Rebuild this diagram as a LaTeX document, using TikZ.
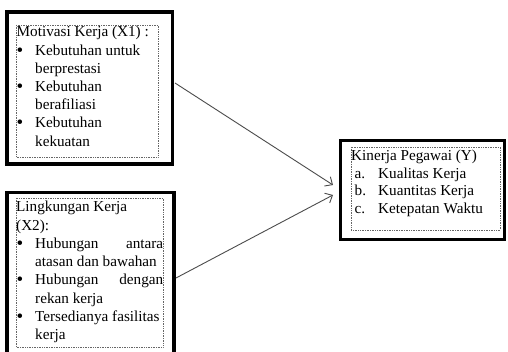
\documentclass[tikz,border=0pt]{standalone}
\usepackage{fontspec}
\setmainfont{Liberation Serif}
\usetikzlibrary{arrows.meta}
\begin{document}
\begin{tikzpicture}[x=1pt,y=-1pt,
  outerbox/.style={draw=black,line width=3.5pt},
  innerbox/.style={draw=black!60,densely dotted,line width=0.7pt},
  txt/.style={anchor=base west,inner sep=0pt,font=\fontsize{15.2}{18}\selectfont,text=black},
  bul/.style={anchor=base west,inner sep=0pt,font=\fontsize{19}{18}\selectfont,text=black},
  conn/.style={draw=black!70,line width=0.9pt,-{Straight Barb[length=6pt,width=11pt,line width=0.9pt]}}]
\clip (0,0) rectangle (508,352);
\fill[white] (0,0) rectangle (508,352);

% Box 1
\draw[outerbox] (7,12) rectangle (172.5,164);
\draw[innerbox] (16,25) rectangle (158,157);
\node[txt] (m0) at (16.5,37) {Motivasi Kerja (X1) :};
\node[bul] (mb1) at (16.5,56.2) {\textbullet};
\node[txt] (m1) at (35,55.2) {Kebutuhan untuk};
\node[txt] (m2) at (35,73.4) {berprestasi};
\node[bul] (mb2) at (16.5,92.6) {\textbullet};
\node[txt] (m3) at (35,91.6) {Kebutuhan};
\node[txt] (m4) at (35,109.8) {berafiliasi};
\node[bul] (mb3) at (16.5,129) {\textbullet};
\node[txt] (m5) at (35,128) {Kebutuhan};
\node[txt] (m6) at (35,146.2) {kekuatan};

% Box 2
\draw[outerbox] (7,192.5) rectangle (174,362);
\draw[innerbox] (16,198) rectangle (163,347);
\node[txt] (l0) at (16,212) {Lingkungan Kerja};
\node[txt] (l1) at (16,230.2) {(X2):};
\node[bul] (lb1) at (16.5,249.4) {\textbullet};
\node[txt] (l2) at (35,248.4) {\makebox[128pt][s]{Hubungan antara}};
\node[txt] (l3) at (35,266.6) {atasan dan bawahan};
\node[bul] (lb2) at (16.5,285.8) {\textbullet};
\node[txt] (l4) at (35,284.8) {\makebox[128pt][s]{Hubungan dengan}};
\node[txt] (l5) at (35,303) {rekan kerja};
\node[bul] (lb3) at (16.5,322.2) {\textbullet};
\node[txt] (l6) at (35,321.2) {Tersedianya fasilitas};
\node[txt] (l7) at (35,339.4) {kerja};

% Box 3
\draw[outerbox] (340.5,140.5) rectangle (504.5,239.5);
\draw[innerbox] (351,147) rectangle (500,230);
\node[txt] (k0) at (351,161) {Kinerja Pegawai (Y)};
\node[txt] (ka) at (354.5,178.5) {a.};
\node[txt] (k1) at (378,178.5) {Kualitas Kerja};
\node[txt] (kb) at (354.5,196) {b.};
\node[txt] (k2) at (378,196) {Kuantitas Kerja};
\node[txt] (kc) at (354.5,213.5) {c.};
\node[txt] (k3) at (378,213.5) {Ketepatan Waktu};

% Connectors
\coordinate (s1) at (175,83);
\coordinate (e1) at (333,185);
\coordinate (s2) at (176,278);
\coordinate (e2) at (333,195);
\draw[conn] (s1) -- (e1);
\draw[conn] (s2) -- (e2);
\end{tikzpicture}
\end{document}
